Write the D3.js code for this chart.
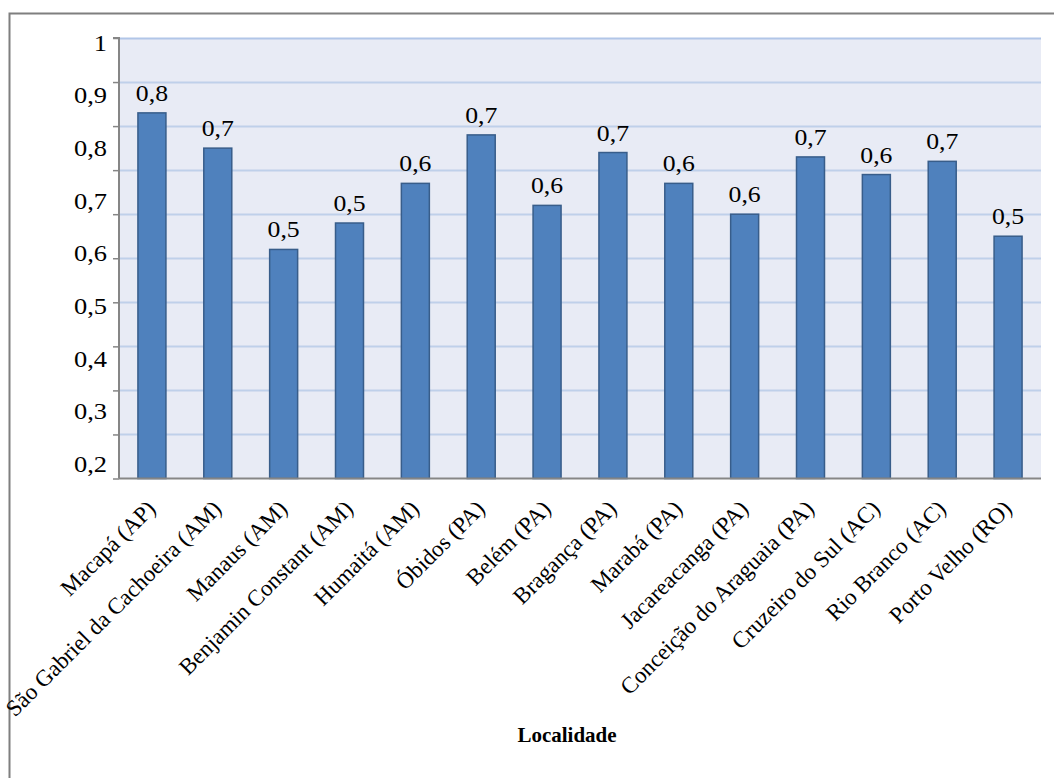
<!DOCTYPE html>
<html>
<head>
<meta charset="utf-8">
<script src="https://cdn.jsdelivr.net/npm/d3@7"></script>
<style>
  html, body { margin: 0; padding: 0; background: #fff; }
  svg { display: block; }
</style>
</head>
<body>
<svg id="chart" width="1054" height="778"></svg>
<script>
"use strict";

// data
var categories = [
  "Macapá (AP)", "São Gabriel da Cachoeira (AM)", "Manaus (AM)",
  "Benjamin Constant (AM)", "Humaitá (AM)", "Óbidos (PA)", "Belém (PA)",
  "Bragança (PA)", "Marabá (PA)", "Jacareacanga (PA)",
  "Conceição do Araguaia (PA)", "Cruzeiro do Sul (AC)", "Rio Branco (AC)",
  "Porto Velho (RO)"
];
var values = [0.83, 0.75, 0.52, 0.58, 0.67, 0.78, 0.62, 0.74, 0.67, 0.60, 0.73, 0.69, 0.72, 0.55];
var valueLabels = ["0,8", "0,7", "0,5", "0,5", "0,6", "0,7", "0,6", "0,7", "0,6", "0,6", "0,7", "0,6", "0,7", "0,5"];
var yTickLabels = ["1", "0,9", "0,8", "0,7", "0,6", "0,5", "0,4", "0,3", "0,2"];
var xTitle = "Localidade";

var svg = d3.select("#chart");
var serif = "'Liberation Serif', 'Times New Roman', serif";

var plot = { left: 119, right: 1041, top: 38, bottom: 478.5 };

var x = d3.scaleBand()
  .domain(categories)
  .range([plot.left, plot.right])
  .paddingInner(0.575)
  .paddingOuter(0.2875);

var y = d3.scaleLinear()
  .domain([0, 1])
  .range([plot.bottom, plot.top]);

// the printed axis labels don't sit on the gridlines in the original
var yLabelPos = d3.scalePoint()
  .domain(yTickLabels)
  .range([42.5, 464]);

// outer frame (only top and left edges are inside the picture)
svg.append("rect")
  .attr("x", 9.5)
  .attr("y", 13.5)
  .attr("width", 1100)
  .attr("height", 800)
  .style("fill", "none")
  .style("stroke", "#7f7f7f")
  .style("stroke-width", 2);

// plot background
svg.append("rect")
  .attr("x", plot.left)
  .attr("y", plot.top)
  .attr("width", plot.right - plot.left)
  .attr("height", plot.bottom - plot.top)
  .style("fill", "#e8ebf5");

// gridlines
var gridTicks = y.ticks(10).filter(function (d) { return d > 0; });
svg.append("g").selectAll("line.grid")
  .data(gridTicks)
  .enter().append("line")
  .attr("class", "grid")
  .attr("x1", plot.left)
  .attr("x2", plot.right)
  .attr("y1", function (d) { return Math.round(y(d)) + 0.5; })
  .attr("y2", function (d) { return Math.round(y(d)) + 0.5; })
  .style("stroke", function (d) { return d === 1 ? "#b1c6e8" : "#bfd0ea"; })
  .style("stroke-width", 2);

// bars
svg.append("g").selectAll("rect.bar")
  .data(values)
  .enter().append("rect")
  .attr("class", "bar")
  .attr("x", function (d, i) { return x(categories[i]); })
  .attr("y", function (d) { return y(d); })
  .attr("width", x.bandwidth())
  .attr("height", function (d) { return y(0) - y(d); })
  .style("fill", "#4f81bd")
  .style("stroke", "#385d8a")
  .style("stroke-width", 1.5);

// value labels
svg.append("g").selectAll("text.val")
  .data(values)
  .enter().append("text")
  .attr("class", "val")
  .attr("transform", function (d, i) {
    var cx = x(categories[i]) + x.bandwidth() / 2;
    return "translate(" + cx + "," + (y(d) - 12) + ") scale(1.12,1)";
  })
  .attr("text-anchor", "middle")
  .style("font-family", serif)
  .style("font-size", "23px")
  .style("fill", "#000")
  .text(function (d, i) { return valueLabels[i]; });

// y axis line + tick marks
var yAxis = d3.axisLeft(y).ticks(10).tickSize(6).tickFormat("");
var yAxisG = svg.append("g")
  .attr("transform", "translate(" + plot.left + ",0)")
  .call(yAxis);
yAxisG.select(".domain")
  .attr("d", "M-6," + plot.top + "H0V" + plot.bottom)
  .style("stroke", "#868686")
  .style("stroke-width", 2);
yAxisG.selectAll(".tick line")
  .style("stroke", "#868686")
  .style("stroke-width", 1.5);

// y labels
svg.append("g").selectAll("text.ylab")
  .data(yTickLabels)
  .enter().append("text")
  .attr("class", "ylab")
  .attr("transform", function (d) {
    return "translate(107," + yLabelPos(d) + ") scale(1.15,1)";
  })
  .attr("dy", "0.35em")
  .attr("text-anchor", "end")
  .style("font-family", serif)
  .style("font-size", "23px")
  .style("fill", "#000")
  .text(function (d) { return d; });

// x axis line
svg.append("line")
  .attr("x1", plot.left)
  .attr("x2", plot.right)
  .attr("y1", plot.bottom)
  .attr("y2", plot.bottom)
  .style("stroke", "#868686")
  .style("stroke-width", 2);

// category labels, rotated
svg.append("g").selectAll("text.cat")
  .data(categories)
  .enter().append("text")
  .attr("class", "cat")
  .attr("transform", function (d) {
    var cx = x(d) + x.bandwidth() / 2;
    return "translate(" + (cx + 5) + "," + 510 + ") rotate(-45)";
  })
  .attr("text-anchor", "end")
  .style("font-family", serif)
  .style("font-size", "23px")
  .style("fill", "#000")
  .text(function (d) { return d; });

// axis title
svg.append("text")
  .attr("x", 567)
  .attr("y", 742)
  .attr("text-anchor", "middle")
  .style("font-family", serif)
  .style("font-size", "21px")
  .style("font-weight", "bold")
  .style("fill", "#000")
  .text(xTitle);
</script>
</body>
</html>
